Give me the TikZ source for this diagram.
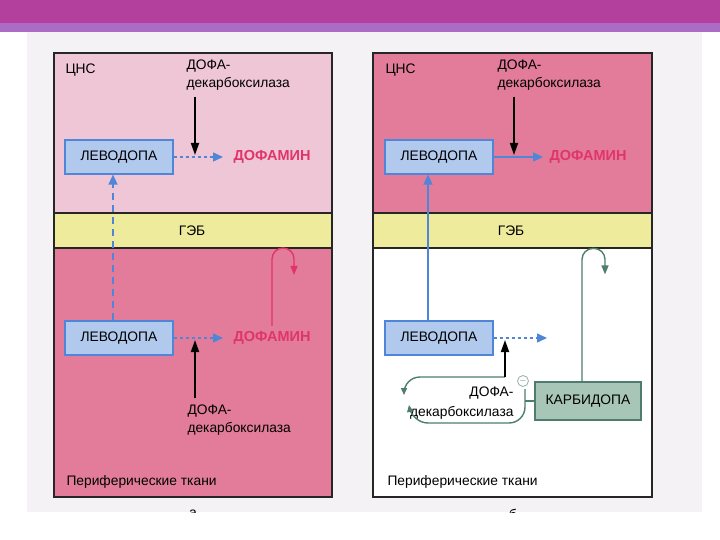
\documentclass[tikz,border=0pt]{standalone}
\usepackage{fontspec}
\setmainfont{Liberation Sans}
\setsansfont{Liberation Sans}
\usetikzlibrary{arrows.meta, positioning, calc}
\definecolor{cbar}{HTML}{B2409C}
\definecolor{cband}{HTML}{AA6CC4}
\definecolor{cpaper}{HTML}{F4F2F5}
\definecolor{cpale}{HTML}{EEC6D6}
\definecolor{cpink}{HTML}{E27C9A}
\definecolor{cyellow}{HTML}{EEEB9C}
\definecolor{cblue}{HTML}{4F86D8}
\definecolor{cboxblue}{HTML}{A9C6EC}
\definecolor{cred}{HTML}{E0356A}
\definecolor{cgreen}{HTML}{4E7D6E}
\definecolor{cgreenbox}{HTML}{A8C6B8}
\tikzset{
  every picture/.style={font=\sffamily, line width=1pt},
  frame/.style={draw=black!85, line width=1.6pt},
  drug/.style={draw=#1, fill=#1!45, line width=1.2pt, minimum width=108pt, minimum height=34pt,
    inner sep=0pt, font=\sffamily\fontsize{13.8}{16}\selectfont},
  drug/.default=cblue,
  tag/.style={inner sep=0pt, align=left, font=\sffamily\fontsize{13.8}{18}\selectfont},
  product/.style={inner sep=0pt, text=cred, font=\sffamily\bfseries\fontsize{14.5}{16}\selectfont},
  flow/.style={-{Triangle[length=10pt, width=9pt]}, draw=cblue, line width=1.4pt},
  enzyme/.style={-{Triangle[length=12pt, width=8pt]}, draw=black, line width=1.8pt},
  hook/.style={-{Triangle[length=9pt, width=7pt]}, draw=#1, line width=1.4pt, rounded corners=11pt},
  cycle/.style={-{Triangle[length=7pt, width=6pt]}, draw=cgreen, line width=1.4pt, rounded corners=16pt},
}
\begin{document}
\begin{tikzpicture}[x=1pt, y=-1pt]
  \useasboundingbox (0,0) rectangle (720,540);
  % slide and scanned page
  \fill[cbar] (0,0) rectangle (720,23);
  \fill[cband] (0,23) rectangle (720,32);
  \fill[cpaper] (27,32) rectangle (702,512);

  % panel a
  \fill[cpale] (54,53) rectangle (332,213);
  \fill[cyellow] (54,213) rectangle (332,248);
  \fill[cpink] (54,248) rectangle (332,497);
  \draw[frame] (54,53) rectangle (332,497) (54,213) -- (332,213) (54,248) -- (332,248);

  \node[tag, anchor=west] (cnsA) at (65,70) {ЦНС};
  \node[tag, anchor=west] (ddcA) at (186,75) {ДОФА-\\декарбоксилаза};
  \node[drug] (levA) at (119,157) {ЛЕВОДОПА};
  \coordinate (tipA) at (223,157);
  \coordinate (hitA) at (195,155);
  \node[product, anchor=west] (daA) at (233,157) {ДОФАМИН};
  \draw[flow, dashed] (levA) -- (tipA);
  \draw[enzyme] ([yshift=-6pt]hitA |- ddcA.south) -- (hitA);
  \node[tag] (bbbA) at (192,231) {ГЭБ};

  \node[drug] (levA2) at (119,338) {ЛЕВОДОПА};
  \coordinate (tipA2) at (223,338);
  \coordinate (hitA2) at (195,340);
  \node[product, anchor=west] (daA2) at (233,338) {ДОФАМИН};
  \draw[flow, dashed] (levA2) -- (tipA2);
  \node[tag, anchor=west] (ddcA2) at (187,420) {ДОФА-\\декарбоксилаза};
  \draw[enzyme] ([yshift=6pt]hitA2 |- ddcA2.north) -- (hitA2);
  \draw[flow, dashed, dash pattern=on 7pt off 5pt] ([xshift=-6pt]levA2.north) -- ([xshift=-6pt]levA.south);
  \draw[hook=cred] ([yshift=5pt]daA2.north) -- ++(0,-78) -| ++(22,27);
  \node[tag, anchor=west] (perA) at (66,482) {Периферические ткани};

  % panel b
  \fill[cpink] (373,53) rectangle (652,213);
  \fill[cyellow] (373,213) rectangle (652,248);
  \fill[white] (373,248) rectangle (652,497);
  \draw[frame] (373,53) rectangle (652,497) (373,213) -- (652,213) (373,248) -- (652,248);

  \node[tag, anchor=west] (cnsB) at (385,70) {ЦНС};
  \node[tag, anchor=west] (ddcB) at (497,75) {ДОФА-\\декарбоксилаза};
  \node[drug] (levB) at (439,157) {ЛЕВОДОПА};
  \coordinate (tipB) at (543,157);
  \coordinate (hitB) at (514,155);
  \node[product, anchor=west] (daB) at (549,157) {ДОФАМИН};
  \draw[flow] (levB) -- (tipB);
  \draw[enzyme] ([yshift=-6pt]hitB |- ddcB.south) -- (hitB);
  \node[tag] (bbbB) at (511,231) {ГЭБ};

  \node[drug] (levB2) at (439,338) {ЛЕВОДОПА};
  \coordinate (tipB2) at (547,338);
  \coordinate (hitB2) at (505,340);
  \draw[flow, dashed] (levB2) -- (tipB2);
  \draw[flow] ([xshift=-11pt]levB2.north) -- ([xshift=-11pt]levB.south);

  % enzyme cycle and carbidopa
  \node[tag, align=right, anchor=east, font=\sffamily\fontsize{13.8}{20}\selectfont] (ddcB2) at (514,403) {ДОФА-\\декарбоксилаза};
  \coordinate (loopTop) at (505,377);
  \coordinate (loopEnd) at (404,395);
  \coordinate (loopRight) at (525,389);
  \coordinate (loopBack) at (409,405);
  \draw[cycle] (loopTop) -| (loopEnd);
  \draw[cycle] (loopRight) |- (412,423) -- (loopBack);
  \draw[enzyme] (loopTop) -- (hitB2);
  \node[drug=cgreen, fill=cgreenbox, minimum width=106pt, minimum height=38pt] (carb) at (588,401) {КАРБИДОПА};
  \node[circle, draw=cgreen!60, line width=0.8pt, inner sep=0pt, minimum size=11pt,
    font=\sffamily\fontsize{9}{9}\selectfont, text=cgreen] (inhib) at (523,381) {$-$};
  \draw[cgreen, line width=1.4pt] (carb.west) -- (loopRight |- carb.west);
  \draw[hook=cgreen] ([xshift=-6pt]carb.north) -- ++(0,-133) -| ++(23,26);
  \node[tag, anchor=west] (perB) at (387,482) {Периферические ткани};

  % panel letters, cut by the scan edge
  \begin{scope}
    \clip (27,32) rectangle (702,512);
    \node[tag, anchor=base, font=\sffamily\fontsize{14}{16}\selectfont] (capA) at (193,517) {а};
    \node[tag, anchor=base, font=\sffamily\fontsize{14}{16}\selectfont] (capB) at (513,519) {б};
  \end{scope}
\end{tikzpicture}
\end{document}
